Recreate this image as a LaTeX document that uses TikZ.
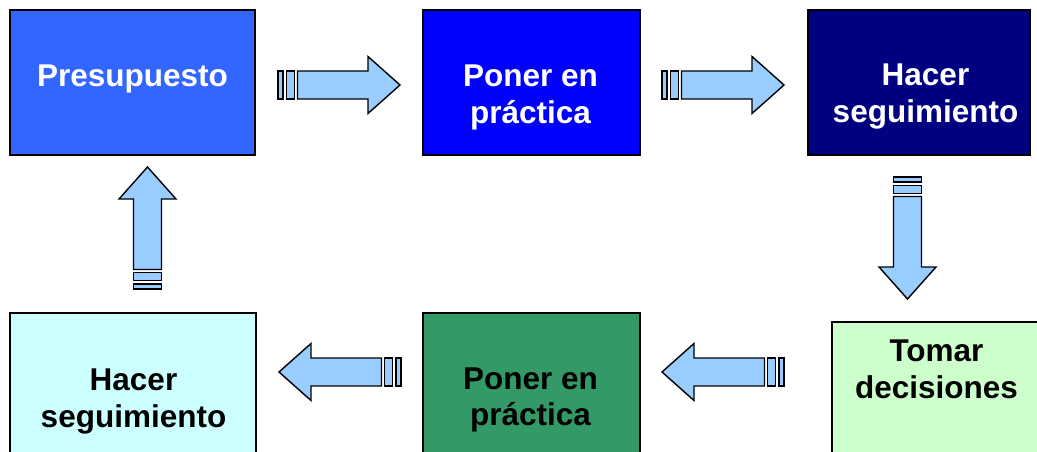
\documentclass[tikz,border=0pt]{standalone}
\usepackage{fontspec}
\setmainfont{Liberation Sans}
\definecolor{cPres}{HTML}{3366FF}
\definecolor{cPonA}{HTML}{0000FF}
\definecolor{cHacA}{HTML}{000080}
\definecolor{cTom}{HTML}{CCFFCC}
\definecolor{cPonB}{HTML}{339966}
\definecolor{cHacB}{HTML}{CCFFFF}
\definecolor{cArr}{HTML}{99CCFF}
\tikzset{
  box/.style={draw=black, line width=1.8pt, rectangle, inner sep=0pt, outer sep=0pt, anchor=north west},
  lbl/.style={font=\fontsize{31.5}{36.5}\selectfont\bfseries, align=center, anchor=base, inner sep=0pt},
  arr/.style={draw=black, fill=cArr, line width=1.4pt, line join=miter},
  blockarrow/.pic={
    \draw[arr] (0,-14) rectangle (5,14);
    \draw[arr] (8.5,-14) rectangle (16.5,14);
    \draw[arr] (19.5,-14) -- (90,-14) -- (90,-28.5) -- (122,0) -- (90,28.5) -- (90,14) -- (19.5,14) -- cycle;
  }
}
\begin{document}
\begin{tikzpicture}[x=1pt,y=-1pt]
\useasboundingbox (0,0) rectangle (1037,452);
\clip (0,0) rectangle (1037,452);
% boxes
\node[box, fill=cPres, minimum width=245pt, minimum height=145pt] (pres) at (10,10) {};
\node[box, fill=cPonA, minimum width=217pt, minimum height=145pt] (ponA) at (423,10) {};
\node[box, fill=cHacA, minimum width=222pt, minimum height=145pt] (hacA) at (808,10) {};
\node[box, fill=cTom, minimum width=230pt, minimum height=160pt] (tom) at (832,322) {};
\node[box, fill=cPonB, minimum width=217pt, minimum height=160pt] (ponB) at (423,313) {};
\node[box, fill=cHacB, minimum width=246pt, minimum height=160pt] (hacB) at (10,313) {};
% texts (anchor = baseline of last line)
\node[lbl, text=white] (tPres) at (132.5,87) {Presupuesto};
\node[lbl, text=white] (tPonA) at (530.5,123) {Poner en\\práctica};
\node[lbl, text=white] (tHacA) at (925.5,122.5) {Hacer\\seguimiento};
\node[lbl, text=black] (tTom) at (936.5,398) {Tomar\\decisiones};
\node[lbl, text=black] (tPonB) at (530.5,425.5) {Poner en\\práctica};
\node[lbl, text=black] (tHacB) at (133.5,427) {Hacer\\seguimiento};
% block arrows
\pic at (278,85) {blockarrow};
\pic at (662,85) {blockarrow};
\pic[rotate=-90] at (907.5,177) {blockarrow};
\pic[rotate=180] at (784,372) {blockarrow};
\pic[rotate=180] at (401,372) {blockarrow};
\pic[rotate=90] at (147.5,289) {blockarrow};
\end{tikzpicture}
\end{document}
